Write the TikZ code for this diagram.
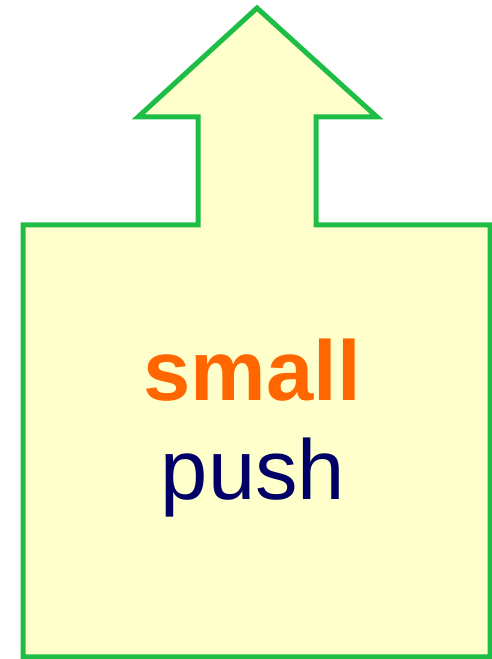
\documentclass[tikz,border=0pt]{standalone}
\usepackage{fontspec}
\setmainfont{Liberation Sans}
\definecolor{boxfill}{HTML}{FFFFCC}
\definecolor{boxline}{RGB}{30,190,70}
\definecolor{orangetxt}{HTML}{FF6600}
\definecolor{navytxt}{HTML}{000066}
\tikzset{
  shapeline/.style={draw=boxline, fill=boxfill, line width=5pt, line join=miter},
  labeltxt/.style={anchor=base, inner sep=0pt, font=\fontsize{85}{100}\selectfont}
}
\begin{document}
\begin{tikzpicture}[x=1pt,y=1pt]
\useasboundingbox (0,0) rectangle (491,659);
\draw[shapeline] (23,2) -- (490,2) -- (490,434) -- (316,434) -- (316,542) -- (377,542) -- (257,651) -- (138,542) -- (198,542) -- (198,434) -- (23,434) -- cycle;
\node[labeltxt, text=orangetxt, font=\fontsize{85}{100}\selectfont\bfseries] (small) at (252,258) {small};
\node[labeltxt, text=navytxt] (push) at (253,159) {push};
\end{tikzpicture}
\end{document}
